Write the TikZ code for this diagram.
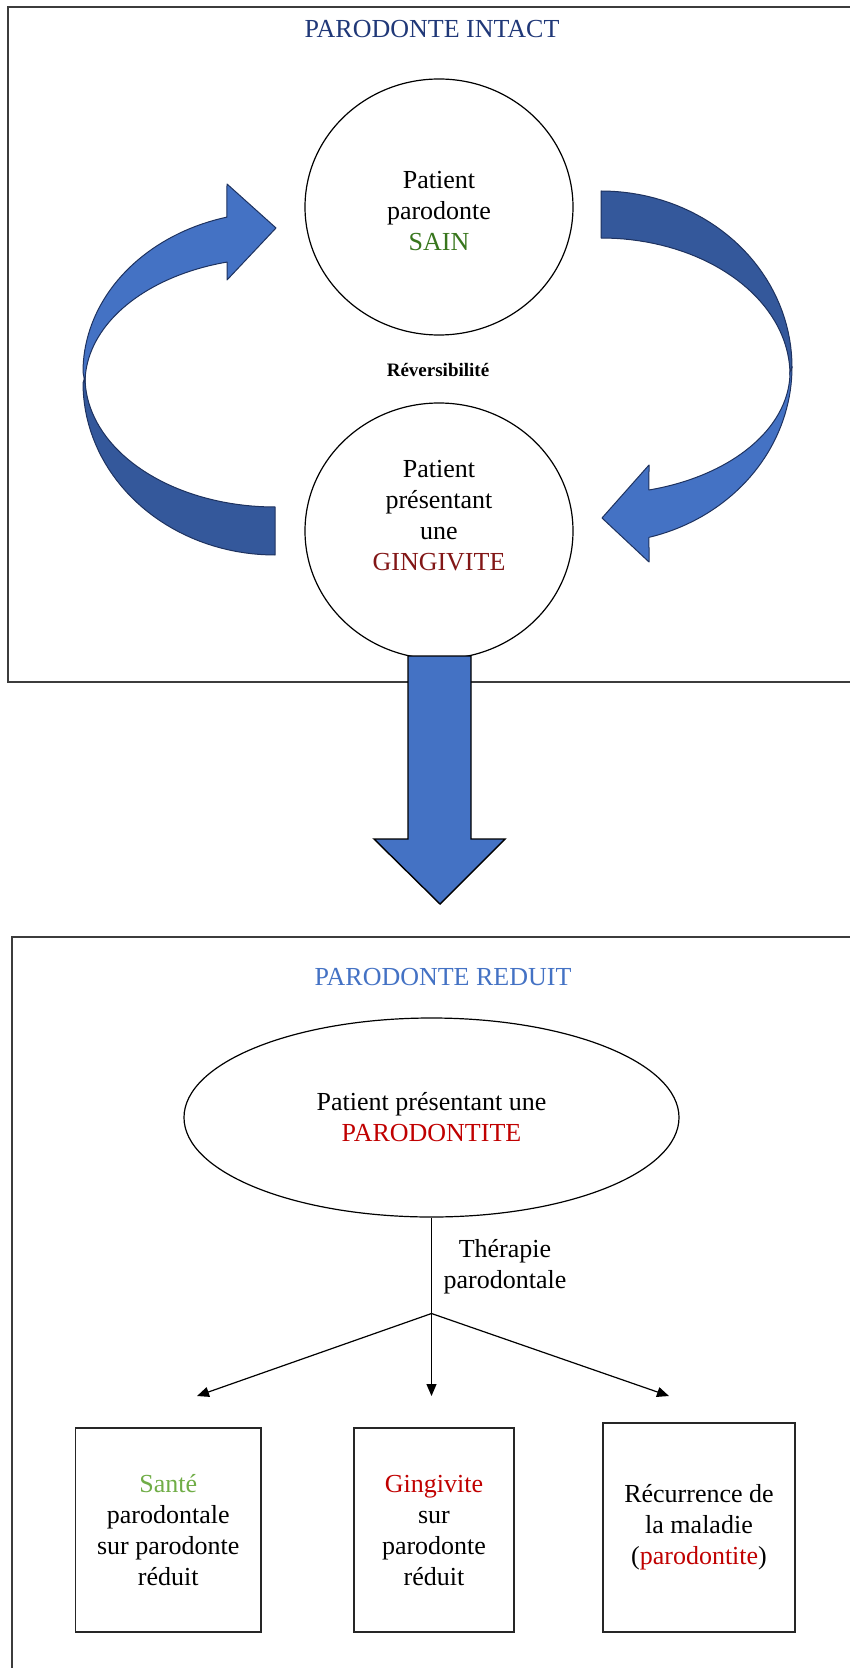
\documentclass[tikz,border=0pt]{standalone}
\usepackage{fontspec}
\setmainfont{Liberation Serif}
\usetikzlibrary{shapes.geometric,arrows.meta}
\definecolor{ribbonlight}{RGB}{68,114,196}
\definecolor{ribbondark}{RGB}{52,88,155}
\definecolor{ribbonedge}{RGB}{30,50,95}
\definecolor{titledark}{RGB}{32,56,120}
\definecolor{titlelight}{RGB}{68,114,196}
\definecolor{sgreen}{RGB}{56,118,29}
\definecolor{lgreen}{RGB}{112,173,71}
\definecolor{dred}{RGB}{130,22,22}
\definecolor{mred}{RGB}{192,0,0}
\definecolor{framegray}{RGB}{60,60,60}
\begin{document}
\begin{tikzpicture}[x=0.5pt,y=-0.5pt,
  frame/.style={draw=framegray,line width=1.1pt},
  bubble/.style={draw=black,line width=0.6pt,ellipse,inner sep=0pt,align=center,font=\fontsize{13}{15.5}\selectfont},
  txt/.style={align=center,font=\fontsize{13}{15.5}\selectfont,inner sep=0pt},
  titletxt/.style={font=\fontsize{13}{15.5}\selectfont,inner sep=0pt,anchor=base},
  ribbon/.style={draw=ribbonedge,line width=0.5pt,line join=round},
  boxnode/.style={draw=black!85,line width=0.75pt,rectangle,inner sep=0pt,align=center,font=\fontsize{13}{15.5}\selectfont},
  flow/.style={draw=black,line width=0.6pt,-{Triangle[length=6pt,width=5pt]}},
]
\useasboundingbox (0,0) rectangle (850,1668);
% frames
\draw[frame] (870,7) -- (8,7) -- (8,682) -- (870,682);
\draw[frame] (870,937) -- (12,937) -- (12,1690);
% titles
\node[titletxt,text=titledark] (titleA) at (432,38) {PARODONTE INTACT};
\node[titletxt,text=titlelight] (titleB) at (443,985) {PARODONTE REDUIT};
% left ribbon arrow
\draw[ribbon,fill=ribbondark] plot[domain=90:180,samples=40] ({275+192*cos(\x)},{383+172*sin(\x)})
  -- plot[domain=180:90,samples=40] ({275+190*cos(\x)},{377+130*sin(\x)}) -- cycle;
\draw[ribbon,fill=ribbonlight] plot[domain=180:255.5,samples=40] ({275+192*cos(\x)},{372+160*sin(\x)})
  -- (227,184) -- (276,228) -- (227,280)
  -- plot[domain=255.4:180,samples=40] ({275+190*cos(\x)},{383+125*sin(\x)}) -- cycle;
% right ribbon arrow
\draw[ribbon,fill=ribbondark] plot[domain=270:360,samples=40] ({601+191*cos(\x)},{367+176*sin(\x)})
  -- plot[domain=360:270,samples=40] ({601+189*cos(\x)},{375+137*sin(\x)}) -- cycle;
\draw[ribbon,fill=ribbonlight] plot[domain=0:75.45,samples=40] ({601+191*cos(\x)},{367+176*sin(\x)})
  -- (649,562) -- (602,518) -- (649,465)
  -- plot[domain=75.3:0,samples=40] ({601+189*cos(\x)},{372+122*sin(\x)}) -- cycle;
% circles
\node[bubble,minimum width=134pt,minimum height=128pt] (sain) at (439,207) {};
\node[txt] (saintxt) at (439,211) {Patient\\parodonte\\\textcolor{sgreen}{SAIN}};
\node[bubble,minimum width=134pt,minimum height=128pt] (ging) at (439,531) {};
\node[txt] (gingtxt) at (439,516) {Patient\\présentant\\une\\\textcolor{dred}{GINGIVITE}};
\node[inner sep=0pt,anchor=base,font=\fontsize{9.5}{11}\selectfont\bfseries] (rev) at (438,377) {Réversibilité};
% big down arrow
\draw[draw=black,line width=0.7pt,line join=miter,fill=ribbonlight]
  (408,656) -- (471,656) -- (471,839) -- (505,839) -- (440,904) -- (374,839) -- (408,839) -- cycle;
% lower part
\node[bubble,minimum width=247.5pt,minimum height=99.5pt] (paro) at (431.5,1117.5)
  {Patient présentant une\\\textcolor{mred}{PARODONTITE}};
\coordinate (branch) at (paro.south |- 0,1313.5);
\coordinate (tipL) at (197,1396);
\coordinate (tipM) at (paro.south |- 0,1396);
\coordinate (tipR) at (669,1396);
\draw[flow] (paro.south) -- (tipM);
\draw[flow] (branch) -- (tipL);
\draw[flow] (branch) -- (tipR);
\node[txt] (thera) at (505,1267) {Thérapie\\parodontale};
\node[boxnode,minimum width=92.75pt,minimum height=102pt] (box1) at (168.25,1530)
  {\textcolor{lgreen}{Santé}\\parodontale\\sur parodonte\\réduit};
\node[boxnode,minimum width=80pt,minimum height=102pt] (box2) at (434,1530)
  {\textcolor{mred}{Gingivite}\\sur\\parodonte\\réduit};
\node[boxnode,minimum width=96pt,minimum height=104.5pt] (box3) at (699,1527.5)
  {Récurrence de\\la maladie\\(\textcolor{mred}{parodontite})};
\end{tikzpicture}
\end{document}
